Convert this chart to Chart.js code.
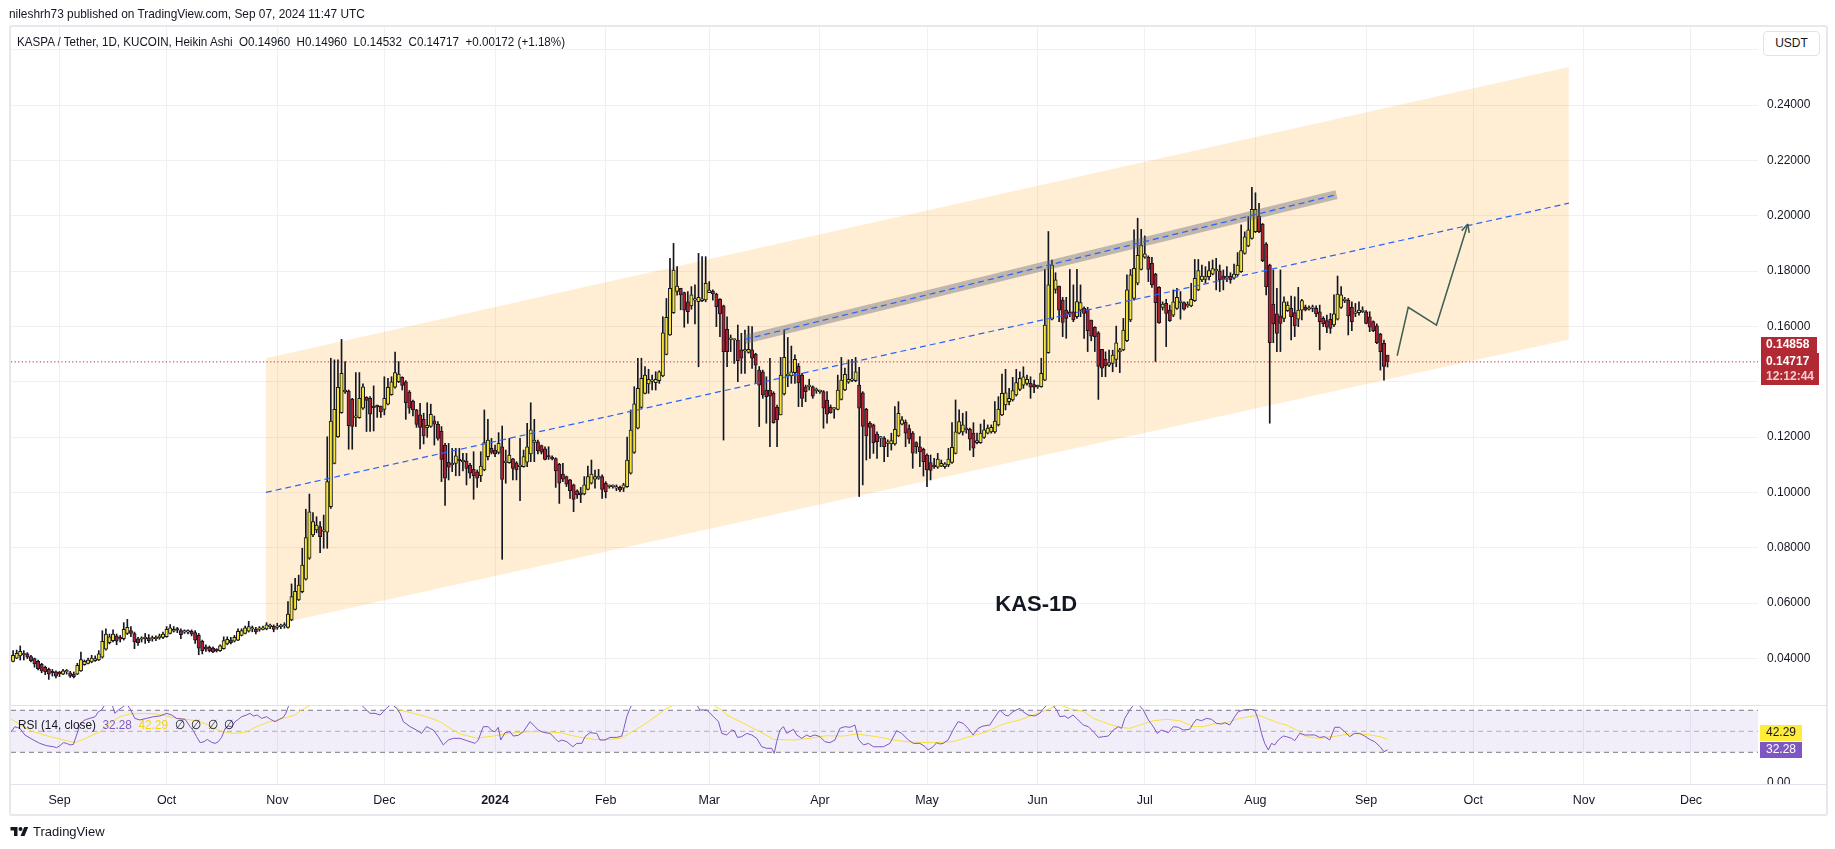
<!DOCTYPE html>
<html>
<head>
<meta charset="utf-8">
<script src="https://cdn.jsdelivr.net/npm/chart.js@4.4.1/dist/chart.umd.min.js"></script>
<style>
  body { margin:0; background:#fff; width:1835px; height:849px; overflow:hidden; position:relative;
         font-family:"Liberation Sans", Arial, sans-serif; color:#131722; }
  canvas { position:absolute; left:0; top:0; }
  .abs { position:absolute; white-space:nowrap; z-index:5; }
  .fit { transform-origin:0 50%; }
  #hdr { left:9px; top:6px; font-size:13px; line-height:16px; }
  #frame { position:absolute; left:9px; top:25px; width:1819px; height:791px; box-sizing:border-box;
           border:2px solid #e6e8ee; border-radius:3px; z-index:1; }
  #title { left:17px; top:34px; font-size:13px; line-height:16px; }
  #usdt { left:1763px; top:31px; width:57px; height:25px; box-sizing:border-box; border:1px solid #e0e3eb;
          border-radius:4px; font-size:12px; line-height:23px; text-align:center; background:#fff; }
  #rsiLegend { left:18px; top:717px; font-size:13px; line-height:16px; }
  .sep { position:absolute; left:11px; width:1815px; height:1px; background:#e0e3eb; z-index:4; }
  #logo { left:10px; top:824px; font-size:13px; line-height:16px; display:flex; align-items:center; gap:4px; }
</style>
</head>
<body>
<div id="hdr" class="abs fit" data-w="356">nileshrh73 published on TradingView.com, Sep 07, 2024 11:47 UTC</div>
<div id="frame"></div>
<canvas id="main" width="1835" height="849"></canvas>
<canvas id="rsi" width="1835" height="849"></canvas>
<div id="title" class="abs fit" data-w="548">KASPA / Tether, 1D, KUCOIN, Heikin Ashi&nbsp; O0.14960&nbsp; H0.14960&nbsp; L0.14532&nbsp; C0.14717&nbsp; +0.00172 (+1.18%)</div>
<div id="usdt" class="abs">USDT</div>
<div id="rsiLegend" class="abs fit" data-w="216">RSI (14, close)&nbsp; <span style="color:#7e57c2">32.28</span>&nbsp; <span style="color:#f2d20c">42.29</span>&nbsp; ∅&nbsp; ∅&nbsp; ∅&nbsp; ∅</div>
<div class="sep" style="top:705px"></div>
<div class="sep" style="top:784px"></div>
<div id="logo" class="abs">
  <svg width="19" height="14" viewBox="0 0 36 28"><path d="M14 22H7V11H0V4h14v18z" fill="#131722"/><path d="M28 22h-8l7.5-18h8L28 22z" fill="#131722"/><circle cx="20" cy="8" r="4" fill="#131722"/></svg>
  <span>TradingView</span>
</div>

<script>
// days are counted from 1 Sep 2023; first candle is 19 Aug 2023
const firstDay = -13;

const open = [
  0.0389,0.0401,0.0409,0.0413,0.0416,0.0406,0.0399,0.0389,0.0378,0.0368,
  0.0360,0.0352,0.0351,0.0346,0.0343,0.0351,0.0348,0.0343,0.0343,0.0355,
  0.0377,0.0382,0.0387,0.0392,0.0394,0.0404,0.0433,0.0457,0.0464,0.0481,
  0.0476,0.0471,0.0490,0.0500,0.0490,0.0471,0.0469,0.0471,0.0474,0.0470,
  0.0471,0.0474,0.0476,0.0478,0.0490,0.0498,0.0503,0.0500,0.0495,0.0495,
  0.0498,0.0493,0.0483,0.0462,0.0442,0.0440,0.0437,0.0428,0.0428,0.0435,
  0.0452,0.0466,0.0462,0.0466,0.0483,0.0490,0.0498,0.0506,0.0506,0.0505,
  0.0505,0.0506,0.0515,0.0517,0.0512,0.0515,0.0517,0.0512,0.0539,0.0577,
  0.0611,0.0641,0.0686,0.0762,0.0846,0.0864,0.0876,0.0859,0.0856,0.0948,
  0.1105,0.1201,0.1288,0.1363,0.1366,0.1336,0.1271,0.1270,0.1304,0.1344,
  0.1340,0.1312,0.1310,0.1312,0.1300,0.1319,0.1353,0.1380,0.1400,0.1416,
  0.1400,0.1363,0.1330,0.1298,0.1280,0.1264,0.1234,0.1238,0.1259,0.1246,
  0.1221,0.1170,0.1109,0.1100,0.1105,0.1117,0.1110,0.1113,0.1099,0.1083,
  0.1074,0.1060,0.1081,0.1129,0.1159,0.1153,0.1144,0.1165,0.1107,0.1107,
  0.1121,0.1107,0.1093,0.1093,0.1109,0.1139,0.1181,0.1183,0.1169,0.1157,
  0.1129,0.1125,0.1122,0.1101,0.1066,0.1057,0.1045,0.1027,0.1006,0.0998,
  0.0994,0.1011,0.1033,0.1048,0.1051,0.1057,0.1033,0.1021,0.1021,0.1015,
  0.1018,0.1015,0.1021,0.1069,0.1144,0.1232,0.1307,0.1358,0.1392,0.1401,
  0.1397,0.1404,0.1421,0.1499,0.1569,0.1650,0.1726,0.1738,0.1722,0.1689,
  0.1674,0.1695,0.1689,0.1693,0.1696,0.1722,0.1728,0.1717,0.1698,0.1674,
  0.1589,0.1553,0.1551,0.1551,0.1515,0.1511,0.1506,0.1515,0.1499,0.1442,
  0.1436,0.1370,0.1370,0.1358,0.1307,0.1280,0.1356,0.1421,0.1421,0.1433,
  0.1457,0.1424,0.1382,0.1382,0.1382,0.1368,0.1364,0.1364,0.1334,0.1307,
  0.1301,0.1300,0.1336,0.1370,0.1398,0.1405,0.1404,0.1388,0.1360,0.1300,
  0.1250,0.1244,0.1211,0.1196,0.1196,0.1177,0.1175,0.1175,0.1204,0.1247,
  0.1254,0.1231,0.1214,0.1180,0.1165,0.1156,0.1135,0.1108,0.1099,0.1091,
  0.1095,0.1093,0.1099,0.1108,0.1141,0.1214,0.1219,0.1226,0.1228,0.1214,
  0.1180,0.1180,0.1199,0.1214,0.1219,0.1219,0.1244,0.1280,0.1316,0.1328,
  0.1334,0.1352,0.1372,0.1388,0.1394,0.1394,0.1390,0.1382,0.1382,0.1406,
  0.1505,0.1626,0.1734,0.1746,0.1695,0.1659,0.1653,0.1653,0.1635,0.1659,
  0.1665,0.1661,0.1623,0.1597,0.1577,0.1517,0.1482,0.1460,0.1466,0.1481,
  0.1508,0.1515,0.1548,0.1623,0.1701,0.1756,0.1806,0.1850,0.1850,0.1828,
  0.1789,0.1741,0.1669,0.1683,0.1659,0.1641,0.1665,0.1686,0.1686,0.1674,
  0.1674,0.1693,0.1732,0.1768,0.1770,0.1780,0.1789,0.1801,0.1801,0.1782,
  0.1774,0.1782,0.1774,0.1786,0.1798,0.1864,0.1891,0.1918,0.1942,0.1999,
  0.1970,0.1898,0.1822,0.1681,0.1645,0.1638,0.1629,0.1657,0.1665,0.1650,
  0.1626,0.1659,0.1669,0.1662,0.1665,0.1665,0.1653,0.1629,0.1621,0.1626,
  0.1605,0.1626,0.1669,0.1693,0.1695,0.1669,0.1647,0.1650,0.1653,0.1653,
  0.1635,0.1617,0.1602,0.1572,0.1539,0.1496
];
const high = [
  0.0428,0.0430,0.0445,0.0428,0.0421,0.0411,0.0401,0.0394,0.0382,0.0372,
  0.0365,0.0360,0.0355,0.0353,0.0360,0.0360,0.0353,0.0351,0.0382,0.0423,
  0.0394,0.0401,0.0411,0.0409,0.0428,0.0500,0.0507,0.0488,0.0503,0.0488,
  0.0483,0.0529,0.0541,0.0515,0.0495,0.0476,0.0478,0.0490,0.0486,0.0481,
  0.0481,0.0488,0.0495,0.0515,0.0522,0.0515,0.0512,0.0507,0.0503,0.0503,
  0.0503,0.0500,0.0490,0.0466,0.0449,0.0445,0.0442,0.0435,0.0449,0.0478,
  0.0478,0.0476,0.0483,0.0507,0.0507,0.0517,0.0534,0.0517,0.0512,0.0515,
  0.0517,0.0529,0.0524,0.0521,0.0527,0.0524,0.0529,0.0605,0.0669,0.0689,
  0.0701,0.0798,0.0939,0.0994,0.0927,0.0912,0.0894,0.0918,0.1201,0.1485,
  0.1479,0.1479,0.1553,0.1473,0.1370,0.1340,0.1433,0.1433,0.1392,0.1346,
  0.1346,0.1385,0.1316,0.1312,0.1418,0.1412,0.1418,0.1507,0.1473,0.1418,
  0.1404,0.1368,0.1334,0.1300,0.1322,0.1286,0.1324,0.1319,0.1276,0.1256,
  0.1238,0.1177,0.1177,0.1159,0.1159,0.1159,0.1141,0.1141,0.1105,0.1147,
  0.1081,0.1147,0.1298,0.1264,0.1195,0.1171,0.1216,0.1240,0.1153,0.1195,
  0.1123,0.1111,0.1195,0.1153,0.1250,0.1324,0.1264,0.1189,0.1171,0.1165,
  0.1165,0.1132,0.1125,0.1105,0.1105,0.1059,0.1047,0.1030,0.1009,0.1018,
  0.1057,0.1095,0.1117,0.1081,0.1083,0.1063,0.1039,0.1027,0.1027,0.1027,
  0.1023,0.1033,0.1200,0.1298,0.1382,0.1485,0.1485,0.1455,0.1445,0.1424,
  0.1436,0.1440,0.1635,0.1701,0.1846,0.1900,0.1816,0.1738,0.1724,0.1726,
  0.1744,0.1750,0.1864,0.1852,0.1852,0.1762,0.1732,0.1720,0.1701,0.1677,
  0.1635,0.1569,0.1553,0.1605,0.1575,0.1587,0.1601,0.1599,0.1503,0.1455,
  0.1442,0.1418,0.1485,0.1364,0.1316,0.1488,0.1587,0.1560,0.1529,0.1497,
  0.1466,0.1430,0.1388,0.1409,0.1385,0.1377,0.1370,0.1368,0.1364,0.1316,
  0.1306,0.1424,0.1488,0.1449,0.1479,0.1481,0.1488,0.1452,0.1364,0.1304,
  0.1256,0.1247,0.1219,0.1202,0.1202,0.1190,0.1214,0.1310,0.1328,0.1274,
  0.1262,0.1244,0.1220,0.1183,0.1202,0.1160,0.1139,0.1135,0.1123,0.1141,
  0.1117,0.1108,0.1159,0.1252,0.1334,0.1298,0.1286,0.1292,0.1232,0.1252,
  0.1214,0.1247,0.1262,0.1244,0.1244,0.1328,0.1346,0.1428,0.1445,0.1376,
  0.1416,0.1445,0.1436,0.1454,0.1424,0.1418,0.1406,0.1388,0.1485,0.1806,
  0.1943,0.1840,0.1794,0.1746,0.1705,0.1705,0.1806,0.1750,0.1806,0.1750,
  0.1671,0.1669,0.1623,0.1599,0.1581,0.1517,0.1508,0.1514,0.1514,0.1601,
  0.1521,0.1629,0.1786,0.1806,0.1949,0.1991,0.1951,0.1927,0.1855,0.1850,
  0.1792,0.1744,0.1689,0.1698,0.1677,0.1732,0.1738,0.1726,0.1689,0.1689,
  0.1756,0.1842,0.1842,0.1822,0.1816,0.1834,0.1840,0.1846,0.1822,0.1804,
  0.1816,0.1794,0.1825,0.1867,0.1967,0.1942,0.1997,0.2103,0.2083,0.2045,
  0.1972,0.1903,0.1825,0.1804,0.1738,0.1804,0.1707,0.1689,0.1710,0.1707,
  0.1741,0.1698,0.1677,0.1674,0.1677,0.1674,0.1677,0.1635,0.1641,0.1647,
  0.1714,0.1782,0.1744,0.1705,0.1701,0.1689,0.1683,0.1689,0.1671,0.1657,
  0.1653,0.1620,0.1609,0.1575,0.1551,0.1496
];
const low = [
  0.0387,0.0399,0.0394,0.0394,0.0399,0.0387,0.0368,0.0358,0.0348,0.0341,
  0.0324,0.0336,0.0329,0.0334,0.0341,0.0343,0.0331,0.0329,0.0341,0.0353,
  0.0375,0.0380,0.0384,0.0389,0.0392,0.0401,0.0430,0.0452,0.0459,0.0449,
  0.0459,0.0466,0.0486,0.0478,0.0435,0.0447,0.0459,0.0454,0.0457,0.0462,
  0.0464,0.0469,0.0471,0.0476,0.0488,0.0495,0.0493,0.0471,0.0490,0.0488,
  0.0481,0.0454,0.0413,0.0416,0.0425,0.0423,0.0421,0.0423,0.0425,0.0433,
  0.0449,0.0452,0.0459,0.0464,0.0481,0.0488,0.0495,0.0496,0.0488,0.0498,
  0.0503,0.0503,0.0507,0.0496,0.0505,0.0507,0.0509,0.0509,0.0536,0.0575,
  0.0609,0.0637,0.0683,0.0758,0.0840,0.0854,0.0782,0.0798,0.0798,0.0942,
  0.1103,0.1199,0.1286,0.1358,0.1156,0.1156,0.1238,0.1268,0.1300,0.1220,
  0.1220,0.1222,0.1271,0.1271,0.1280,0.1316,0.1351,0.1377,0.1397,0.1370,
  0.1264,0.1286,0.1276,0.1235,0.1157,0.1175,0.1199,0.1235,0.1171,0.1189,
  0.1039,0.0953,0.1045,0.1075,0.1060,0.1060,0.1078,0.1027,0.1051,0.0975,
  0.1018,0.1039,0.1078,0.1117,0.1139,0.1129,0.1139,0.0758,0.1033,0.1105,
  0.1045,0.1045,0.0970,0.1091,0.1093,0.1111,0.1111,0.1139,0.1139,0.1117,
  0.1119,0.1117,0.1018,0.0960,0.1039,0.1021,0.0978,0.0930,0.0978,0.0963,
  0.0991,0.1009,0.1030,0.1015,0.1047,0.0978,0.0980,0.1015,0.1015,0.1006,
  0.1003,0.1003,0.1018,0.1066,0.1141,0.1229,0.1304,0.1356,0.1358,0.1370,
  0.1370,0.1394,0.1418,0.1497,0.1567,0.1647,0.1713,0.1660,0.1597,0.1611,
  0.1662,0.1609,0.1454,0.1689,0.1689,0.1722,0.1695,0.1599,0.1563,0.1189,
  0.1454,0.1509,0.1466,0.1400,0.1430,0.1430,0.1503,0.1448,0.1394,0.1238,
  0.1340,0.1250,0.1165,0.1250,0.1165,0.1280,0.1352,0.1382,0.1394,0.1394,
  0.1310,0.1310,0.1328,0.1370,0.1340,0.1358,0.1358,0.1232,0.1250,0.1286,
  0.1268,0.1298,0.1334,0.1368,0.1394,0.1400,0.1400,0.0985,0.1027,0.1117,
  0.1123,0.1141,0.1123,0.1165,0.1111,0.1129,0.1153,0.1171,0.1202,0.1244,
  0.1165,0.1177,0.1087,0.1141,0.1093,0.1059,0.1021,0.1045,0.1087,0.1087,
  0.1093,0.1087,0.1093,0.1105,0.1139,0.1211,0.1207,0.1214,0.1153,0.1129,
  0.1175,0.1177,0.1195,0.1211,0.1214,0.1214,0.1240,0.1277,0.1298,0.1316,
  0.1330,0.1348,0.1368,0.1376,0.1388,0.1340,0.1360,0.1376,0.1380,0.1404,
  0.1503,0.1623,0.1720,0.1617,0.1563,0.1557,0.1635,0.1617,0.1629,0.1635,
  0.1557,0.1509,0.1548,0.1509,0.1336,0.1418,0.1418,0.1454,0.1436,0.1454,
  0.1433,0.1512,0.1545,0.1617,0.1695,0.1750,0.1804,0.1846,0.1762,0.1741,
  0.1473,0.1611,0.1659,0.1527,0.1618,0.1635,0.1661,0.1626,0.1659,0.1669,
  0.1671,0.1690,0.1729,0.1762,0.1756,0.1768,0.1786,0.1732,0.1726,0.1732,
  0.1762,0.1756,0.1771,0.1782,0.1795,0.1861,0.1888,0.1915,0.1939,0.1939,
  0.1834,0.1714,0.1250,0.1541,0.1509,0.1509,0.1617,0.1654,0.1551,0.1563,
  0.1599,0.1623,0.1656,0.1659,0.1653,0.1635,0.1515,0.1599,0.1577,0.1575,
  0.1599,0.1623,0.1665,0.1686,0.1569,0.1585,0.1635,0.1641,0.1650,0.1609,
  0.1581,0.1581,0.1538,0.1442,0.1406,0.14532
];
const close = [
  0.0411,0.0418,0.0425,0.0416,0.0404,0.0392,0.0380,0.0363,0.0355,0.0351,
  0.0343,0.0348,0.0336,0.0345,0.0355,0.0352,0.0336,0.0334,0.0375,0.0396,
  0.0389,0.0394,0.0401,0.0399,0.0416,0.0462,0.0488,0.0478,0.0488,0.0462,
  0.0469,0.0505,0.0512,0.0490,0.0459,0.0457,0.0470,0.0472,0.0464,0.0471,
  0.0472,0.0481,0.0488,0.0505,0.0510,0.0505,0.0502,0.0486,0.0498,0.0496,
  0.0488,0.0466,0.0437,0.0428,0.0433,0.0428,0.0423,0.0427,0.0445,0.0464,
  0.0469,0.0457,0.0476,0.0498,0.0500,0.0510,0.0515,0.0507,0.0496,0.0506,
  0.0509,0.0521,0.0516,0.0505,0.0515,0.0517,0.0519,0.0560,0.0623,0.0642,
  0.0665,0.0737,0.0837,0.0930,0.0894,0.0882,0.0840,0.0860,0.1039,0.1258,
  0.1300,0.1380,0.1430,0.1370,0.1241,0.1238,0.1272,0.1340,0.1382,0.1332,
  0.1283,0.1306,0.1309,0.1291,0.1340,0.1380,0.1400,0.1433,0.1428,0.1387,
  0.1324,0.1304,0.1298,0.1246,0.1235,0.1204,0.1242,0.1282,0.1247,0.1195,
  0.1119,0.1051,0.1091,0.1105,0.1132,0.1115,0.1117,0.1087,0.1069,0.1060,
  0.1051,0.1095,0.1180,0.1189,0.1144,0.1139,0.1177,0.1047,0.1113,0.1135,
  0.1087,0.1081,0.1095,0.1129,0.1165,0.1226,0.1189,0.1150,0.1145,0.1119,
  0.1128,0.1121,0.1078,0.1033,0.1048,0.1030,0.1006,0.0975,0.0991,0.0991,
  0.1027,0.1057,0.1066,0.1057,0.1059,0.1011,0.1003,0.1022,0.1022,0.1021,
  0.1009,0.1027,0.1117,0.1225,0.1320,0.1376,0.1412,0.1424,0.1409,0.1404,
  0.1409,0.1436,0.1577,0.1633,0.1738,0.1804,0.1746,0.1714,0.1659,0.1653,
  0.1714,0.1696,0.1705,0.1700,0.1756,0.1731,0.1717,0.1671,0.1645,0.1509,
  0.1509,0.1554,0.1552,0.1476,0.1485,0.1512,0.1517,0.1485,0.1460,0.1388,
  0.1352,0.1346,0.1348,0.1252,0.1262,0.1424,0.1488,0.1428,0.1436,0.1481,
  0.1396,0.1340,0.1364,0.1388,0.1348,0.1369,0.1365,0.1304,0.1283,0.1288,
  0.1304,0.1370,0.1406,0.1427,0.1409,0.1406,0.1436,0.1304,0.1238,0.1204,
  0.1235,0.1180,0.1183,0.1197,0.1165,0.1178,0.1187,0.1228,0.1286,0.1262,
  0.1214,0.1192,0.1142,0.1165,0.1147,0.1111,0.1081,0.1079,0.1093,0.1120,
  0.1105,0.1103,0.1120,0.1163,0.1219,0.1256,0.1244,0.1232,0.1192,0.1160,
  0.1187,0.1214,0.1226,0.1232,0.1235,0.1258,0.1301,0.1358,0.1360,0.1340,
  0.1368,0.1397,0.1412,0.1418,0.1409,0.1380,0.1380,0.1383,0.1430,0.1605,
  0.1750,0.1822,0.1768,0.1659,0.1614,0.1629,0.1645,0.1623,0.1690,0.1686,
  0.1647,0.1585,0.1565,0.1563,0.1455,0.1449,0.1457,0.1469,0.1496,0.1541,
  0.1515,0.1587,0.1732,0.1786,0.1810,0.1857,0.1894,0.1862,0.1806,0.1750,
  0.1686,0.1613,0.1681,0.1647,0.1621,0.1689,0.1705,0.1687,0.1662,0.1677,
  0.1698,0.1774,0.1802,0.1782,0.1780,0.1802,0.1809,0.1802,0.1768,0.1770,
  0.1782,0.1768,0.1789,0.1822,0.1874,0.1924,0.1949,0.2023,0.2023,0.1942,
  0.1838,0.1744,0.1541,0.1609,0.1575,0.1611,0.1689,0.1677,0.1635,0.1602,
  0.1659,0.1693,0.1660,0.1665,0.1669,0.1645,0.1617,0.1609,0.1597,0.1593,
  0.1645,0.1717,0.1714,0.1695,0.1638,0.1617,0.1653,0.1659,0.1659,0.1611,
  0.1597,0.1585,0.1541,0.1509,0.1455,0.14717
];

// RSI(14) and its moving average, [day, value]
const rsiPoints = [
  [-13.9,48.0],[-12.5,54.4],[-11.1,52.8],[-9.7,46.5],[-7.3,41.7],[-5.5,38.5],[-3.6,36.3],[-1.7,35.3],
  [-0.8,34.4],[0.1,36.3],[1.1,39.2],[2.0,38.5],[3.0,37.0],[3.9,37.6],[4.8,46.5],[5.7,56.0],[6.7,60.1],
  [7.6,61.4],[8.5,62.3],[10.0,63.9],[10.9,68.7],[11.8,70.3],[13.2,78],[14.6,77],[15.5,67.1],[16.5,70.3],
  [17.9,73.5],[18.8,76],[19.7,71.9],[21.1,62.3],[22.5,60.8],[24.4,62.3],[26.3,63.9],[28.1,64.6],[30.0,67.1],
  [31.4,65.5],[32.8,62.3],[35.2,61.4],[36.6,54.4],[37.5,50.6],[38.4,44.9],[39.4,39.2],[40.5,40.1],[41.4,42.3],
  [42.6,39.5],[43.6,38.5],[44.5,40.1],[45.4,44.2],[46.4,52.8],[47.3,55.0],[48.2,54.4],[49.2,59.2],[50.1,61.4],
  [51.0,63.9],[52.4,65.5],[53.4,67.1],[54.3,64.6],[55.4,65.5],[56.6,62.3],[58.0,63.9],[59.1,61.4],[60.4,59.2],
  [61.6,61.4],[62.7,63.3],[63.4,67.1],[64.1,73.5],[66,82],[70,88],[75,86],[80,82],[84,77],[86.0,70.3],
  [87.0,67.1],[88.4,67.1],[89.8,65.5],[90.7,68.7],[91.6,71.9],[93,76],[94.4,71.9],[95.4,67.1],[96.3,59.2],
  [98.2,54.4],[100.0,51.2],[101.4,48.0],[102.8,54.4],[104.7,51.2],[106.1,44.9],[107.5,37.0],[108.9,41.7],
  [110.3,43.3],[112.2,43.3],[114.1,41.1],[116.4,38.5],[117.3,41.7],[118.7,54.4],[120.1,54.4],[121.1,50.6],
  [122.0,49.6],[122.9,53.8],[123.6,41.7],[124.8,48.7],[126.2,49.6],[127.1,45.5],[128.5,46.1],[129.9,49.6],
  [131.8,59.2],[133.2,54.4],[134.1,51.2],[135.5,49.0],[137.4,48.0],[138.8,43.3],[139.7,40.1],[140.7,41.7],
  [142.1,40.1],[143.8,35.3],[144.9,38.5],[146.3,38.5],[147.2,44.9],[148.6,48.7],[150.5,48.0],[151.4,41.7],
  [152.8,41.7],[154.2,44.2],[156.1,44.2],[157.5,45.5],[158.1,52.8],[158.9,63.9],[159.6,70.3],[161,80],
  [165,86],[170,88],[175,85],[178,78],[179.4,70.3],[181.3,70.3],[183.2,63.9],[184.6,59.2],[185.5,48.0],
  [186.9,46.5],[188.3,51.2],[189.0,50.6],[189.9,44.2],[191.1,44.9],[192.5,48.0],[193.9,46.5],[195.3,43.3],
  [196.7,35.3],[198.1,33.8],[199.5,33.8],[200.2,29.0],[200.9,40.1],[201.8,51.2],[202.8,54.4],[203.7,48.0],
  [205.6,51.9],[206.5,46.5],[207.9,43.3],[209.3,46.5],[210.2,44.9],[211.6,46.5],[213.0,44.9],[214.4,40.1],
  [215.8,39.2],[217.2,41.7],[218.6,52.8],[220.0,54.4],[221.4,53.8],[222.8,56.0],[223.8,42.3],[225.2,37.0],
  [226.6,38.5],[228.0,35.3],[229.4,35.3],[230.8,35.3],[232.6,38.5],[234.5,50.6],[235.9,48.0],[237.8,41.7],
  [239.2,38.5],[241.0,38.5],[242.5,35.3],[243.3,32.2],[244.7,35.3],[245.7,39.2],[246.6,37.9],[247.5,38.5],
  [248.9,41.7],[250.3,51.2],[251.7,59.2],[253.1,57.6],[254.5,52.8],[255.9,46.5],[257.3,52.8],[258.7,55.0],
  [260.6,56.0],[261.5,60.8],[263.4,70.3],[264.8,65.5],[265.7,64.6],[267.1,68.7],[269.0,71.9],[269.9,68.7],
  [271.3,65.5],[273.2,64.6],[274.6,67.1],[275.7,71.9],[277.5,78],[279.3,70.3],[280.2,64.0],[281.6,64.6],
  [282.5,62.3],[283.9,65.5],[284.9,62.3],[286.8,56.0],[288.2,54.4],[289.6,49.6],[291.0,44.2],[292.4,44.9],
  [293.8,45.5],[295.2,51.2],[296.6,54.4],[297.5,52.8],[298.4,62.3],[299.8,70.3],[301.5,78],[303.6,70.3],
  [305.0,60.8],[306.4,54.4],[307.5,48.0],[308.7,51.2],[310.6,48.7],[312.0,54.4],[313.4,53.8],[314.8,51.2],
  [316.6,51.9],[317.6,57.6],[318.5,61.4],[319.9,60.1],[321.3,62.3],[322.7,61.4],[324.1,57.6],[325.5,56.9],
  [326.4,58.2],[327.8,56.0],[329.2,63.9],[330.2,68.7],[331.6,70.3],[333.4,70.9],[334.8,70.3],[335.8,60.8],
  [336.7,48.0],[337.6,38.5],[338.6,32.2],[339.5,38.5],[340.4,37.0],[341.4,41.7],[342.8,45.5],[343.7,44.9],
  [345.1,43.3],[346.0,41.1],[347.4,48.0],[348.8,46.5],[350.2,46.5],[351.6,46.5],[353.0,44.2],[354.4,44.9],
  [355.8,41.7],[357.2,53.8],[358.6,53.8],[360.0,49.6],[361.4,44.9],[362.8,48.0],[364.2,48.0],[365.6,45.5],
  [367.0,42.3],[368.4,40.1],[369.9,35.3],[371.0,30.6],[372.0,32.28]
];
const maPoints = [
  [-13.9,62.3],[-10.1,54.4],[-7.3,49.6],[-2.7,44.9],[2.0,41.1],[4.3,39.2],[6.7,42.3],[11.3,49.6],[14.1,57.6],
  [16.9,63.9],[19.7,66.5],[23.5,67.1],[27.2,66.5],[30.0,64.6],[32.8,62.3],[35.6,61.4],[38.4,60.1],[41.2,56.9],
  [44.0,51.9],[46.8,48.7],[49.6,48.0],[52.4,49.6],[55.2,54.4],[58.0,58.2],[60.8,60.8],[63.6,63.3],[66.0,65.5],
  [67.8,70.3],[72,78],[80,82],[88,80],[93,76],[95.4,70.3],[99.1,67.1],[102.8,63.9],[106.6,59.2],[109.4,52.8],
  [112.2,47.5],[116.9,43.5],[121.5,45.5],[126.2,48.0],[130.9,49.6],[135.5,49.6],[140.2,48.7],[144.9,44.9],
  [149.5,42.3],[154.2,42.3],[157.0,43.3],[158.9,46.5],[163.6,56.0],[168.2,67.1],[169.6,70.9],[175,80],[181,79],
  [185.5,70.3],[186.9,65.5],[191.6,57.6],[196.2,49.6],[200.0,42.3],[205.6,41.7],[210.2,43.3],[214.9,45.8],
  [219.6,45.5],[223.3,47.4],[228.9,44.9],[233.6,41.7],[238.2,39.8],[243.9,39.2],[250.3,40.1],[255.0,44.9],
  [259.7,49.6],[264.3,56.9],[269.0,60.8],[272.7,65.5],[276.5,70.3],[280,75.5],[283.5,71],[286.8,69],
  [289.6,62.3],[293.3,57.6],[297.0,53.8],[299.8,52.8],[302.6,56.0],[306.4,60.1],[310.1,61.4],[313.8,60.1],
  [317.6,54.4],[320.4,54.4],[323.2,56.9],[326.9,58.2],[330.6,62.3],[334.4,64.6],[335.8,65.5],[338.1,62.3],
  [341.8,57.6],[343.7,56.0],[346.5,51.2],[349.3,44.9],[353.0,43.3],[357.7,45.5],[362.4,48.0],[367.1,46.5],
  [369.9,44.9],[372.0,42.29]
];

const monthDays   = [0, 30, 61, 91, 122, 153, 182, 213, 243, 274, 304, 335, 366, 396, 427, 457];
const monthLabels = ['Sep','Oct','Nov','Dec','2024','Feb','Mar','Apr','May','Jun','Jul','Aug','Sep','Oct','Nov','Dec'];
const priceTicks  = [0.04, 0.06, 0.08, 0.10, 0.12, 0.14, 0.16, 0.18, 0.20, 0.22, 0.24, 0.26];

// drawings
const channelDays   = [57.8, 422.8];
const channelTop    = [0.1485, 0.2538];
const channelBottom = [0.0515, 0.1553];
const channelMid    = [0.1000, 0.20455];
const bandDays      = [192, 357.7];
const bandPrices    = [0.1553, 0.2076];
const arrowDays     = [374.7, 377.8, 385.7, 394.5];
const arrowPrices   = [0.1494, 0.1669, 0.1605, 0.1970];
const note = { text: 'KAS-1D', day: 273.6, price: 0.0593 };

const lastPrice = 0.14717;
const priceLabels = ['0.14858', '0.14717', '12:12:44'];
const rsiLast = 32.28, maLast = 42.29;

const X_MIN = -13.585, X_MAX = 475.77;
const GRID = '#eff0f3';
const INK = '#131722';
const UP = '#f3e33a', DOWN = '#b0212f';

Chart.defaults.font.family = '"Liberation Sans", Arial, sans-serif';

// squeeze the header texts to the narrow width they have in the screenshot
document.querySelectorAll('.fit').forEach(el => {
  const w = el.getBoundingClientRect().width;
  el.style.transform = 'scaleX(' + (Number(el.dataset.w) / w).toFixed(3) + ')';
});

const days = open.map((_, i) => firstDay + i);
const wickData = days.map((d, i) => ({ x: d, y: [low[i], high[i]] }));
const bodyData = days.map((d, i) => ({ x: d, y: [open[i], close[i]] }));
const bodyColors = close.map((c, i) => c >= open[i] ? UP : DOWN);
const pts = (xs, ys) => xs.map((x, i) => ({ x, y: ys[i] }));
const flat = v => [{ x: X_MIN, y: v }, { x: X_MAX, y: v }];
const lineDs = (data, extra) => Object.assign({
  type: 'line', data, pointRadius: 0, borderWidth: 1, tension: 0, fill: false
}, extra);

const monthAxis = {
  type: 'linear', min: X_MIN, max: X_MAX, offset: false,
  afterBuildTicks: s => { s.ticks = monthDays.map(v => ({ value: v })); }
};

const mainOverlay = {
  id: 'mainOverlay',
  afterDatasetsDraw(chart) {
    const { ctx, scales: { x, y } } = chart;
    const arrow = chart.getDatasetMeta(chart.data.datasets.length - 1).data;
    const a = arrow[arrow.length - 2], b = arrow[arrow.length - 1];
    const ang = Math.atan2(b.y - a.y, b.x - a.x);
    ctx.save();
    ctx.strokeStyle = '#3d5f54';
    ctx.lineWidth = 1.5;
    ctx.beginPath();
    [-0.45, 0.45].forEach(d => {
      ctx.moveTo(b.x, b.y);
      ctx.lineTo(b.x - 9 * Math.cos(ang + d), b.y - 9 * Math.sin(ang + d));
    });
    ctx.stroke();
    ctx.fillStyle = INK;
    ctx.font = 'bold 22px "Liberation Sans", Arial, sans-serif';
    ctx.textAlign = 'center';
    ctx.textBaseline = 'middle';
    ctx.fillText(note.text, x.getPixelForValue(note.day), y.getPixelForValue(note.price));
    ctx.restore();
  },
  afterDraw(chart) {
    const { ctx, scales: { y } } = chart;
    const y0 = Math.round(y.getPixelForValue(lastPrice));
    ctx.save();
    ctx.fillStyle = '#b22833';
    ctx.fillRect(1761, y0 - 25, 56, 16);
    ctx.fillRect(1761, y0 - 9, 58, 32);
    ctx.font = 'bold 12px "Liberation Sans", Arial, sans-serif';
    ctx.textBaseline = 'middle';
    ctx.fillStyle = '#fff';
    ctx.fillText(priceLabels[0], 1766, y0 - 17);
    ctx.fillText(priceLabels[1], 1766, y0);
    ctx.fillStyle = 'rgba(255,255,255,0.78)';
    ctx.fillText(priceLabels[2], 1766, y0 + 15);
    ctx.restore();
  }
};

new Chart(document.getElementById('main'), {
  type: 'bar',
  data: {
    datasets: [
      lineDs(pts(channelDays, channelTop), { borderWidth: 0, borderColor: 'rgba(0,0,0,0)', fill: '+1',
        backgroundColor: 'rgba(255,152,0,0.17)', order: 10 }),
      lineDs(pts(channelDays, channelBottom), { borderWidth: 0, borderColor: 'rgba(0,0,0,0)', order: 9 }),
      { data: wickData, backgroundColor: INK, barThickness: 1, grouped: false, order: 6 },
      { data: bodyData, backgroundColor: bodyColors, borderColor: INK, borderWidth: 1, borderSkipped: false,
        barThickness: 3.4, minBarLength: 1.5, grouped: false, order: 5 },
      lineDs(flat(lastPrice), { borderColor: '#b22833', borderDash: [1.2, 2.4], order: 4 }),
      lineDs(pts(channelDays, channelMid), { borderColor: '#2962ff', borderDash: [6, 4], borderWidth: 1.2, order: 3 }),
      lineDs(pts(bandDays, bandPrices), { borderColor: 'rgba(105,105,115,0.42)', borderWidth: 9,
        borderCapStyle: 'butt', order: 3 }),
      lineDs(pts(bandDays, bandPrices), { borderColor: '#2962ff', borderDash: [6, 4], borderWidth: 1.2, order: 2 }),
      lineDs(pts(arrowDays, arrowPrices), { borderColor: '#3d5f54', borderWidth: 1.5, order: 1 })
    ]
  },
  options: {
    responsive: false, animation: false, devicePixelRatio: 1, events: [],
    layout: { padding: { left: 11, top: 27, right: 7, bottom: 144 } },
    plugins: { legend: { display: false }, tooltip: { enabled: false } },
    scales: {
      x: Object.assign({}, monthAxis, {
        grid: { color: GRID, offset: false, drawTicks: false },
        border: { display: false },
        ticks: { display: false },
        afterFit: s => { s.height = 0; }
      }),
      y: {
        position: 'right', min: 0.02314, max: 0.26823,
        grid: { color: GRID, drawTicks: false },
        border: { display: false },
        afterBuildTicks: s => { s.ticks = priceTicks.map(v => ({ value: v })); },
        ticks: { padding: 9, color: INK, font: { size: 12 },
                 callback: v => v > 0.25 ? '' : v.toFixed(5) },
        afterFit: s => { s.width = 70; }
      }
    }
  },
  plugins: [mainOverlay]
});

const rsiOverlay = {
  id: 'rsiOverlay',
  afterDraw(chart) {
    const { ctx, scales: { y } } = chart;
    const yr = Math.round(y.getPixelForValue(rsiLast));
    ctx.save();
    ctx.font = '12px "Liberation Sans", Arial, sans-serif';
    ctx.textBaseline = 'middle';
    ctx.fillStyle = '#7e57c2';
    ctx.fillRect(1760, yr - 8, 42, 16);
    ctx.fillStyle = '#ffeb3b';
    ctx.fillRect(1760, yr - 25, 42, 16);
    ctx.fillStyle = '#fff';
    ctx.fillText(rsiLast.toFixed(2), 1766, yr);
    ctx.fillStyle = INK;
    ctx.fillText(maLast.toFixed(2), 1766, yr - 17);
    // zero label, cut by the pane edge
    ctx.beginPath();
    ctx.rect(1758, chart.chartArea.top, 70, chart.chartArea.bottom - chart.chartArea.top);
    ctx.clip();
    ctx.fillText((0).toFixed(2), 1767, y.getPixelForValue(0) - 1);
    ctx.restore();
  }
};

new Chart(document.getElementById('rsi'), {
  type: 'line',
  data: {
    datasets: [
      lineDs(flat(70), { borderColor: '#787b86', borderDash: [5, 4], fill: '+1',
        backgroundColor: 'rgba(126,87,194,0.1)', order: 6 }),
      lineDs(flat(30), { borderColor: '#787b86', borderDash: [5, 4], order: 5 }),
      lineDs(flat(50), { borderColor: 'rgba(120,123,134,0.55)', borderDash: [5, 4], order: 4 }),
      lineDs(maPoints.map(p => ({ x: p[0], y: p[1] })), { borderColor: '#f7e03a', order: 2 }),
      lineDs(rsiPoints.map(p => ({ x: p[0], y: p[1] })), { borderColor: '#7e57c2', order: 1 })
    ]
  },
  options: {
    responsive: false, animation: false, devicePixelRatio: 1, events: [],
    layout: { padding: { left: 11, top: 706, right: 7, bottom: 32 } },
    plugins: { legend: { display: false }, tooltip: { enabled: false } },
    scales: {
      x: Object.assign({}, monthAxis, {
        grid: { color: GRID, offset: false, drawTicks: false },
        border: { display: false },
        ticks: {
          autoSkip: false, maxRotation: 0, padding: 9, color: INK,
          font: ctx => ({ size: 12.5, weight: monthLabels[ctx.index] === '2024' ? 'bold' : 'normal' }),
          callback: (v, i) => monthLabels[i]
        },
        afterFit: s => { s.height = 33; }
      }),
      y: {
        position: 'right', min: -0.19, max: 74.1,
        grid: { display: false }, border: { display: false },
        ticks: { display: false },
        afterFit: s => { s.width = 70; }
      }
    }
  },
  plugins: [rsiOverlay]
});
</script>
</body>
</html>
